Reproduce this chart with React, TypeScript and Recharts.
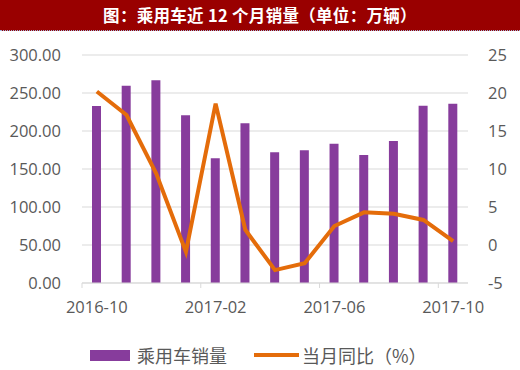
import React from "react";
import { ComposedChart, Bar, Line, XAxis, YAxis, CartesianGrid } from "recharts";

const months = [
  "2016-10", "2016-11", "2016-12", "2017-01", "2017-02", "2017-03", "2017-04",
  "2017-05", "2017-06", "2017-07", "2017-08", "2017-09", "2017-10",
];
const sales = [233, 259.5, 266.8, 220.7, 164, 210.3, 172, 174.6, 183.3, 168.4, 186.8, 233.3, 235.9];
const yoy = [20.2, 17.1, 9.4, -0.9, 18.6, 2.0, -3.3, -2.4, 2.5, 4.3, 4.1, 3.3, 0.5];
const leftTicks = [0, 50, 100, 150, 200, 250, 300];
const rightTicks = [-5, 0, 5, 10, 15, 20, 25];

const data = months.map((m, i) => ({ month: m, sales: sales[i], yoy: yoy[i] }));

const PURPLE = "#873c9c";
const ORANGE = "#e46c0a";
const GREY = "#595959";
const FONT = "'Open Sans', 'Noto Sans', sans-serif";

// label at category centre, tick mark on the left edge of the band (like Excel)
function MonthTick(props: any) {
  const { x, y, payload, width } = props;
  const band = width / months.length;
  return (
    <g>
      <line x1={x - band / 2} x2={x - band / 2} y1={y - 8} y2={y - 3} stroke="#d9d9d9" strokeWidth={1} />
      <text x={x} y={y + 22} textAnchor="middle" fill={GREY} fontSize={16.5} fontFamily={FONT}>
        {payload.value}
      </text>
    </g>
  );
}

export default function App() {
  return (
    <div style={{ position: "fixed", left: 0, top: 0, width: 520, height: 370, background: "#fff" }}>
      <div
        style={{
          height: 30,
          background: "#990000",
          borderBottom: "1px dotted #9fb3d9",
          color: "#fff",
          fontFamily: "'Noto Sans CJK SC', sans-serif",
          fontWeight: 700,
          fontSize: 16.5,
          letterSpacing: 0.3,
          lineHeight: "30px",
          textAlign: "center",
        }}
      >
        图：乘用车近 12 个月销量（单位：万辆）
      </div>
      <ComposedChart
        width={520}
        height={292}
        data={data}
        margin={{ top: 24, right: 0, left: 0, bottom: 0 }}
      >
        <CartesianGrid yAxisId="left" vertical={false} stroke="#d9d9d9" />
        <XAxis
          dataKey="month"
          interval={3}
          height={40}
          tickLine={false}
          axisLine={{ stroke: "#d9d9d9" }}
          tick={<MonthTick />}
        />
        <YAxis
          yAxisId="left"
          width={82}
          domain={[0, 300]}
          ticks={leftTicks}
          tickFormatter={(v: number) => v.toFixed(2)}
          axisLine={false}
          tickLine={false}
          tickMargin={15}
          tick={{ fill: GREY, fontSize: 16.5, fontFamily: FONT }}
        />
        <YAxis
          yAxisId="right"
          orientation="right"
          width={52}
          domain={[-5, 25]}
          ticks={rightTicks}
          axisLine={false}
          tickLine={false}
          tickMargin={14}
          tick={{ fill: GREY, fontSize: 16.5, fontFamily: FONT, textAnchor: "start" }}
        />
        <Bar yAxisId="left" dataKey="sales" fill={PURPLE} barSize={9} isAnimationActive={false} />
        <Line
          yAxisId="right"
          type="linear"
          dataKey="yoy"
          stroke={ORANGE}
          strokeWidth={4}
          dot={false}
          isAnimationActive={false}
        />
      </ComposedChart>
      <div
        style={{
          position: "absolute",
          top: 343,
          left: 90,
          display: "flex",
          alignItems: "center",
          fontFamily: "'Noto Sans CJK SC', sans-serif",
          fontSize: 18,
          color: GREY,
          lineHeight: "24px",
        }}
      >
        <span style={{ display: "inline-block", width: 40, height: 11, background: PURPLE, marginRight: 7 }} />
        <span>乘用车销量</span>
        <span style={{ display: "inline-block", width: 45, height: 4, background: ORANGE, marginLeft: 27, marginRight: 3 }} />
        <span>当月同比（%）</span>
      </div>
    </div>
  );
}
